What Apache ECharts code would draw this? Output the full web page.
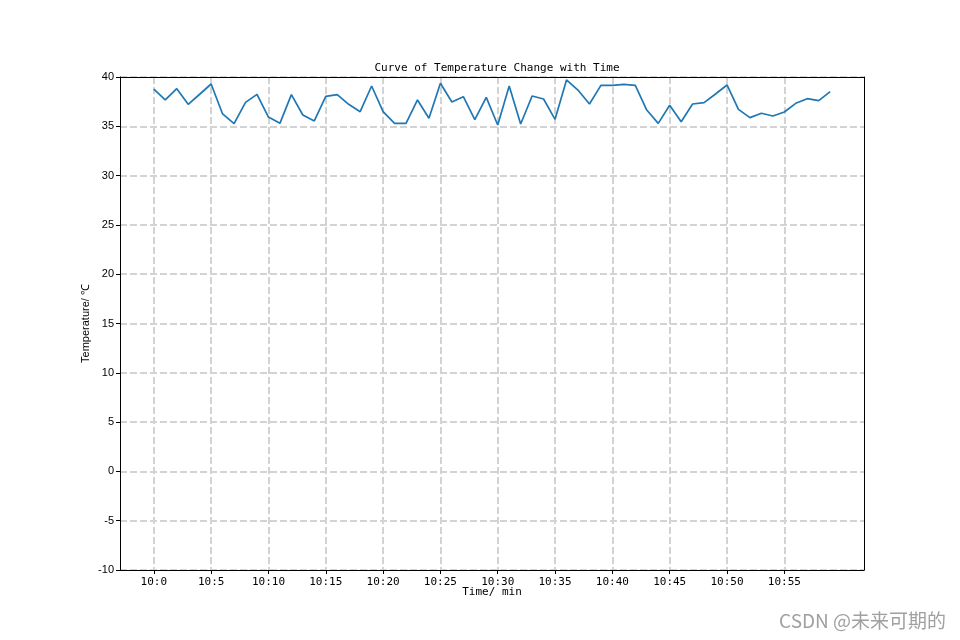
<!DOCTYPE html>
<html>
<head>
<meta charset="utf-8">
<script src="https://cdn.jsdelivr.net/npm/echarts@6/dist/echarts.min.js"></script>
<style>html,body{margin:0;padding:0;background:#fff;}#c{width:960px;height:640px;}</style>
</head>
<body>
<div id="c"></div>
<script>
var minutes = [];
for (var m = 0; m < 60; m++) minutes.push(m);
var temperatures = [
  38.78, 37.67, 38.82, 37.23, 38.25, 39.29, 36.25, 35.27, 37.43, 38.24,
  35.94, 35.30, 38.21, 36.15, 35.54, 38.04, 38.21, 37.23, 36.48, 39.09,
  36.48, 35.30, 35.30, 37.67, 35.81, 39.36, 37.46, 38.00, 35.67, 37.94,
  35.13, 39.09, 35.23, 38.07, 37.77, 35.71, 39.70, 38.68, 37.26, 39.15,
  39.15, 39.26, 39.15, 36.65, 35.30, 37.13, 35.47, 37.26, 37.40, 38.28,
  39.19, 36.72, 35.88, 36.32, 36.04, 36.45, 37.33, 37.80, 37.60, 38.51
];
var xTickValues = [0, 5, 10, 15, 20, 25, 30, 35, 40, 45, 50, 55];
var yMin = -10, yMax = 40, yStep = 5;
var xMin = -2.95, xMax = 61.95;
var titleText = 'Curve of Temperature Change with Time';
var xName = 'Time/ min';
var yName = 'Temperature/ ℃';
var watermark = 'CSDN @未来可期的';

var mono = '"DejaVu Sans Mono", monospace';
var sans = '"Liberation Sans", Arial, sans-serif';
var gridDash = { color: '#d3d3d3', width: 2, type: [7, 3] };
var spine = { show: true, onZero: false, lineStyle: { color: '#000', width: 1 } };

var chart = echarts.init(document.getElementById('c'));
chart.setOption({
  animation: false,
  title: {
    text: titleText, left: 492, textAlign: 'center', top: 58,
    textStyle: { fontFamily: mono, fontSize: 11, fontWeight: 'normal', color: '#000' }
  },
  grid: { left: 120, right: 96, top: 77, bottom: 70, show: false },
  xAxis: [{
    type: 'value', min: xMin, max: xMax, position: 'bottom',
    name: xName, nameLocation: 'middle', nameGap: 22, nameMoveOverlap: false,
    nameTextStyle: { fontFamily: mono, fontSize: 11, color: '#000', verticalAlign: 'middle' },
    axisLine: spine,
    axisTick: { show: true, length: 4, lineStyle: { color: '#000' }, customValues: xTickValues },
    axisLabel: { customValues: xTickValues, fontFamily: mono, fontSize: 11, color: '#000', margin: 7,
      formatter: function (v) { return '10:' + v; } },
    splitLine: { show: true, lineStyle: gridDash }
  }, {
    type: 'value', min: xMin, max: xMax, position: 'top',
    axisLine: spine, axisTick: { show: false }, axisLabel: { show: false }, splitLine: { show: false }
  }],
  yAxis: [{
    type: 'value', min: yMin, max: yMax, interval: yStep, position: 'left',
    name: yName, nameLocation: 'middle', nameGap: 34, nameRotate: 90, nameMoveOverlap: false,
    nameTextStyle: { fontFamily: sans, fontSize: 11, color: '#000', verticalAlign: 'middle' },
    axisLine: spine,
    axisTick: { show: true, length: 4, lineStyle: { color: '#000' } },
    axisLabel: { fontFamily: sans, fontSize: 11, color: '#000', margin: 6 },
    splitLine: { show: true, lineStyle: gridDash }
  }, {
    type: 'value', min: yMin, max: yMax, interval: yStep, position: 'right',
    axisLine: spine, axisTick: { show: false }, axisLabel: { show: false }, splitLine: { show: false }
  }],
  series: [{
    type: 'line',
    xAxisIndex: 0, yAxisIndex: 0,
    data: minutes.map(function (m, i) { return [m, temperatures[i]]; }),
    showSymbol: false, symbol: 'none',
    lineStyle: { color: '#1f77b4', width: 1.7 },
    z: 5
  }],
  graphic: [{
    type: 'text', right: 14, top: 611,
    style: { text: watermark, fontSize: 19, fill: '#a0a0a0', fontFamily: '"Noto Sans CJK SC", sans-serif' }
  }]
});
</script>
</body>
</html>
